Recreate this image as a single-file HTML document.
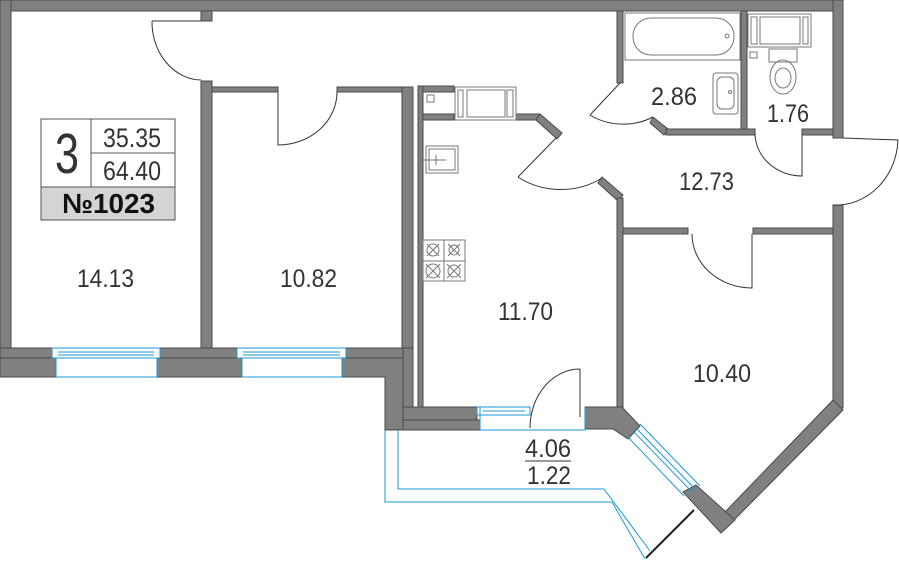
<!DOCTYPE html>
<html><head><meta charset="utf-8"><style>
html,body{margin:0;padding:0;background:#fff;}
svg{display:block;}
text{font-family:"Liberation Sans",sans-serif;fill:#333;}
</style></head><body>
<svg width="899" height="564" viewBox="0 0 899 564" xmlns="http://www.w3.org/2000/svg">
<g fill="#808080" stroke="#4a4a4a" stroke-width="1">
<rect x="0" y="0" width="843" height="11"/>
<rect x="0" y="0" width="11" height="358"/>
<rect x="833" y="0" width="10" height="138"/>
<rect x="833" y="205" width="10" height="203"/>
<polygon points="833,400 843,410 733,521 725,512"/>
<polygon points="683,492 696,485 735,520 721,533"/>
<rect x="0" y="348" width="52" height="10"/>
<rect x="0" y="358" width="56" height="19"/>
<rect x="160" y="348" width="77" height="10"/>
<rect x="157" y="358" width="85" height="19"/>
<rect x="346" y="348" width="57" height="10"/>
<polygon points="342,358 403,358 403,420 403,430 400,430 385,430 385,377 342,377"/>
<rect x="201" y="11" width="11" height="10"/>
<rect x="201" y="81" width="11" height="267"/>
<rect x="212" y="87" width="66" height="5"/>
<rect x="337" y="87" width="65" height="5"/>
<rect x="402" y="87" width="11" height="261"/>
<rect x="403" y="348" width="10" height="60"/>
<rect x="418" y="86" width="5" height="322"/>
<rect x="423" y="86" width="31" height="6"/>
<rect x="423" y="114" width="31" height="6"/>
<rect x="516" y="114" width="24" height="6"/>
<polygon points="540,114 562,133 557,139 536,120"/>
<polygon points="602,177 623,195 618,201 598,183"/>
<rect x="617" y="198" width="6" height="210"/>
<rect x="403" y="407" width="74" height="13"/>
<rect x="403" y="420" width="77" height="10"/>
<polygon points="585,407 622,407 640,426 628,439 613,429 585,429"/>
<rect x="617" y="11" width="6" height="72"/>
<polygon points="653,117 668,129 664,135 650,123"/>
<rect x="666" y="129" width="89" height="6"/>
<rect x="741" y="11" width="6" height="118"/>
<rect x="802" y="129" width="31" height="6"/>
<rect x="623" y="228" width="65" height="6"/>
<rect x="753" y="228" width="80" height="6"/>
</g>
<g fill="none" stroke="#333" stroke-width="1">
<path d="M152,21 L201,21 M152,21 A50,58 0 0 0 201,80"/>
<path d="M278,92 L278,145 A59,53 0 0 0 337,92"/>
<path d="M518,177 L556,138 M518,177 A70,60 0 0 0 602,178"/>
<path d="M620,83 L590,115 M590,115 A55,45 0 0 0 653,117"/>
<path d="M755,133 A47,43 0 0 0 802,176 L802,135"/>
<path d="M843,138 L898,140 A62,68 0 0 1 833,205"/>
<path d="M692,234 A60,54 0 0 0 752,288 L752,234"/>
<path d="M580,369 L580,417 M580,369 A50,59 0 0 0 530,428"/>
</g>
<g fill="#fff" stroke="#1a9ad6" stroke-width="1">
<rect x="52" y="348" width="108" height="10"/>
<line x1="58" y1="352" x2="154" y2="352"/><line x1="58" y1="355" x2="154" y2="355"/>
<rect x="56" y="358" width="101" height="19"/>
<rect x="237" y="348" width="109" height="10"/>
<line x1="243" y1="352" x2="340" y2="352"/><line x1="243" y1="355" x2="340" y2="355"/>
<rect x="242" y="358" width="100" height="19"/>
<rect x="477" y="407" width="53" height="8"/>
<line x1="483" y1="411" x2="525" y2="411"/>
<line x1="480" y1="430" x2="585" y2="430"/>
<line x1="480" y1="407" x2="480" y2="430"/><line x1="585" y1="407" x2="585" y2="430"/>
<line x1="640" y1="424" x2="700" y2="486"/>
<line x1="636" y1="428" x2="696" y2="490"/>
<line x1="633" y1="431" x2="693" y2="493"/>
<line x1="627" y1="436" x2="684" y2="496"/>
</g>
<g fill="none" stroke="#1a9ad6" stroke-width="1">
<polyline points="385,430 385,502 612,502 645,559"/>
<polyline points="398,430 398,489 604,489 650,551"/>
</g>
<line x1="694" y1="510" x2="646" y2="558" stroke="#222" stroke-width="2"/>
<g fill="none" stroke="#777" stroke-width="1">
<rect x="455" y="87" width="61" height="33"/>
<rect x="458" y="90" width="5" height="27"/><rect x="467" y="90" width="38" height="27"/><rect x="507" y="90" width="6" height="27"/>
<rect x="427" y="95" width="7" height="7"/>
<rect x="426" y="146" width="32" height="27"/><rect x="429" y="149" width="26" height="21"/>
<line x1="423" y1="160" x2="446" y2="160"/><line x1="436" y1="155" x2="436" y2="165"/>
<rect x="423" y="240" width="42" height="41"/>
<line x1="444" y1="240" x2="444" y2="281"/><line x1="423" y1="261" x2="465" y2="261"/>
<circle cx="433" cy="250" r="6"/><circle cx="454" cy="250" r="5"/><circle cx="433" cy="271" r="7"/><circle cx="454" cy="271" r="6"/>
<path d="M427,244 L439,256 M439,244 L427,256 M448,244 L460,256 M460,244 L448,256 M426,264 L440,278 M440,264 L426,278 M447,264 L461,278 M461,264 L447,278"/>
<rect x="625" y="13" width="115" height="47"/>
<rect x="633" y="18" width="101" height="37" rx="18"/>
<circle cx="727" cy="36" r="2"/>
<rect x="713" y="73" width="25" height="41" rx="3"/><rect x="717" y="77" width="17" height="32" rx="5"/>
<circle cx="730" cy="92" r="1.5"/>
<rect x="748" y="14" width="63" height="33"/>
<rect x="751" y="17" width="6" height="27"/><rect x="760" y="17" width="40" height="27"/><rect x="803" y="17" width="5" height="27"/>
<rect x="750" y="52" width="7" height="6"/>
<rect x="769" y="49" width="28" height="13"/>
<ellipse cx="783" cy="77" rx="13" ry="17"/>
<ellipse cx="783" cy="78" rx="8" ry="10"/>
</g>
<rect x="41" y="119" width="134" height="101" fill="#fff" stroke="#555"/>
<line x1="91" y1="119" x2="91" y2="187" stroke="#555"/>
<line x1="91" y1="153" x2="175" y2="153" stroke="#555"/>
<rect x="41" y="187" width="134" height="33" fill="#d4d4d4" stroke="#555"/>
<text x="55" y="173" font-size="57" textLength="24" lengthAdjust="spacingAndGlyphs">3</text>
<text x="103" y="147" font-size="27" textLength="58" lengthAdjust="spacingAndGlyphs">35.35</text>
<text x="103" y="180" font-size="27" textLength="58" lengthAdjust="spacingAndGlyphs">64.40</text>
<text x="62" y="213" font-size="28" font-weight="bold" textLength="93" lengthAdjust="spacingAndGlyphs" style="fill:#111">№1023</text>
<g font-size="25">
<text x="77" y="287" textLength="57" lengthAdjust="spacingAndGlyphs">14.13</text>
<text x="280" y="287" textLength="57" lengthAdjust="spacingAndGlyphs">10.82</text>
<text x="498" y="320" textLength="55" lengthAdjust="spacingAndGlyphs">11.70</text>
<text x="693" y="382" textLength="58" lengthAdjust="spacingAndGlyphs">10.40</text>
<text x="679" y="190" textLength="55" lengthAdjust="spacingAndGlyphs">12.73</text>
<text x="651" y="105" textLength="46" lengthAdjust="spacingAndGlyphs">2.86</text>
<text x="767" y="122" textLength="42" lengthAdjust="spacingAndGlyphs">1.76</text>
<text x="525" y="457" textLength="46" lengthAdjust="spacingAndGlyphs">4.06</text>
<text x="527" y="484" textLength="44" lengthAdjust="spacingAndGlyphs">1.22</text>
</g>
<line x1="525" y1="461" x2="571" y2="461" stroke="#333" stroke-width="1"/>
</svg>
</body></html>
